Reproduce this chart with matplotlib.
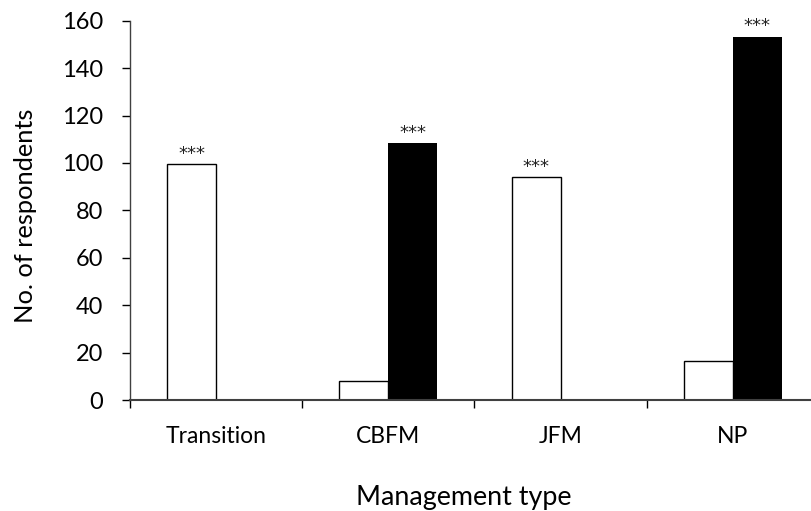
import numpy as np
import matplotlib.pyplot as plt

plt.rcParams['font.family'] = ['Lato', 'DejaVu Sans']

categories = ['Transition', 'CBFM', 'JFM', 'NP']
white_vals = [99.5, 8, 94, 16.3]
black_vals = [0, 108.3, 0, 153.2]
white_sig = ['***', '', '***', '']
black_sig = ['', '***', '', '***']

fig = plt.figure(figsize=(8.11, 5.11), dpi=100)
# axes runs a little past the right edge, like the original
ax = fig.add_axes([130 / 811, 111 / 511, 689 / 811, 379.3 / 511])

x = np.arange(len(categories))
w = 0.284
ax.bar(x - w / 2, white_vals, w, color='white', edgecolor='black', linewidth=1.0)
ax.bar(x + w / 2, black_vals, w, color='black', edgecolor='none')

# significance stars
for offs, vals, sig in [(-w / 2, white_vals, white_sig), (w / 2, black_vals, black_sig)]:
    for xi, v, s in zip(x + offs, vals, sig):
        if s:
            ax.annotate(s, (xi, v), xytext=(0, 7.5), textcoords='offset points',
                        ha='center', va='center', fontsize=13,
                        family='DejaVu Sans', color='#222222')

ax.set_xlim(-0.5, len(categories) - 0.5)
ax.set_ylim(0, 160)
ax.set_yticks(range(0, 161, 20))
ax.set_xticks(np.arange(-0.5, len(categories), 1.0))
ax.set_xticklabels([])
ax.set_xticks(x, minor=True)
ax.set_xticklabels(categories, minor=True)
ax.tick_params(axis='x', which='minor', length=0, pad=19, labelsize=16.5)
ax.tick_params(axis='x', which='major', length=6, width=1, direction='out')
ax.tick_params(axis='y', length=6, width=1, direction='out', labelsize=17, pad=13.5)

for side in ['top', 'right']:
    ax.spines[side].set_visible(False)
ax.spines['left'].set_color('#404040')
ax.spines['bottom'].set_color('#404040')
ax.spines['left'].set_linewidth(1)
ax.spines['bottom'].set_linewidth(1.5)

ax.set_ylabel('No. of respondents', fontsize=18.3)
ax.yaxis.set_label_coords(-105 / 689, (400 - 216) / 379.3)
ax.yaxis.label.set_va('center')
ax.set_xlabel('Management type', fontsize=19.4)
ax.xaxis.set_label_coords((464 - 130) / 689, -(505 - 400) / 379.3)
ax.xaxis.label.set_va('baseline')

fig.savefig('out.png', dpi=100)
